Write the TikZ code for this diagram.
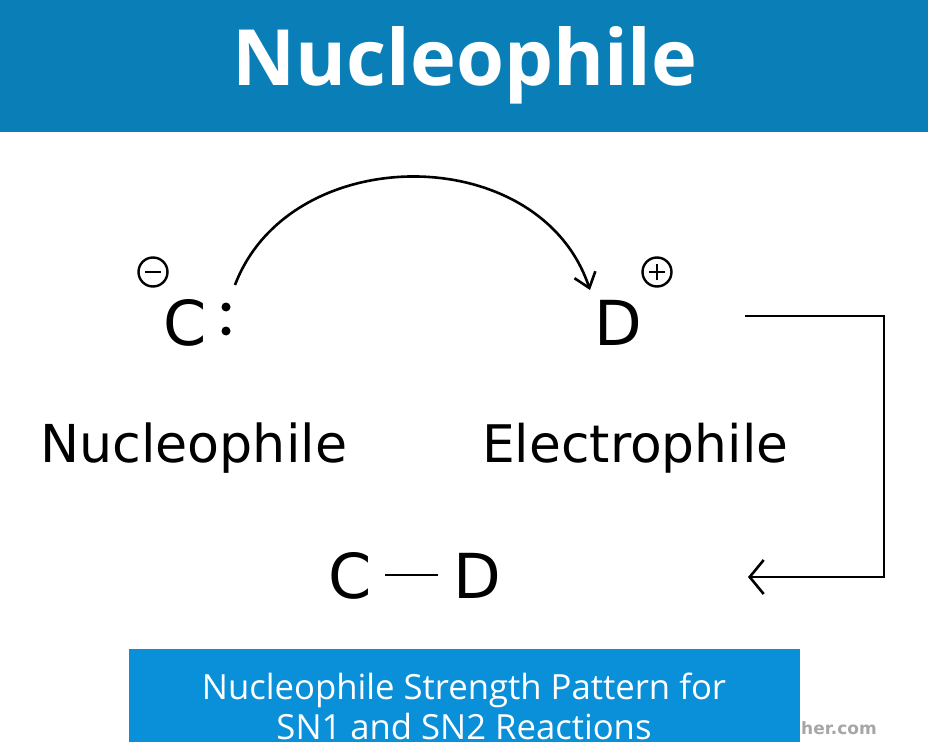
\documentclass[tikz,border=0pt]{standalone}
\usepackage{fontspec}
\setmainfont{DejaVu Sans}
\newfontfamily\capfont{Open Sans}
\usetikzlibrary{arrows.meta}
\definecolor{bannerblue}{HTML}{0A7FB7}
\definecolor{capblue}{HTML}{0A8FD9}
\begin{document}
\begin{tikzpicture}[x=1pt,y=-1pt,
  chem/.style={font=\fontsize{62}{62}\selectfont,inner sep=0pt},
  lbl/.style={font=\fontsize{45}{45}\selectfont,inner sep=0pt},
  chg/.style={draw,line width=2.4pt,circle,minimum size=29pt,inner sep=0pt},
  ln/.style={line width=2.6pt}]
\useasboundingbox (0,0) rectangle (928,751);
\fill[bannerblue] (0,0) rectangle (928,132);
\node[text=white,inner sep=0pt] (title) at (465,65) {\resizebox{465pt}{!}{\capfont\bfseries Nucleophile}};
\node[chem,anchor=base west] (C) at (163,345) {C};
\fill (226,307) circle (4.5pt) coordinate (d1);
\fill (226,331) circle (4.5pt) coordinate (d2);
\node[chg] (minus) at (153,272) {};
\draw[line width=2.4pt] ([xshift=-8pt]minus.center) -- ([xshift=8pt]minus.center);
\node[chem,anchor=base west] (D) at (594,345) {D};
\node[chg] (plus) at (657,272) {};
\draw[line width=2.4pt] ([xshift=-8pt]plus.center) -- ([xshift=8pt]plus.center) ([yshift=-8pt]plus.center) -- ([yshift=8pt]plus.center);
\coordinate (a0) at (235,285);
\coordinate (a1) at (590,290);
\draw[ln,-{Straight Barb[length=14pt,width=22pt,line width=2.6pt]}] (a0) .. controls (290,140) and (540,140) .. (a1);
\node[lbl,anchor=base west] (nuc) at (40,462) {\resizebox{307pt}{!}{Nucleophile}};
\node[lbl,anchor=base west] (ele) at (482,462) {\resizebox{306pt}{!}{Electrophile}};
\node[chem,anchor=base west] (C2) at (328,598) {C};
\node[chem,anchor=base west] (D2) at (453,598) {D};
\draw[ln] (385,575) -- (438,575);
\coordinate (b0) at (745,316);
\coordinate (b1) at (748,577);
\draw[ln,-{Straight Barb[length=14pt,width=34pt,line width=2.6pt]}] (b0) -- (884,316) -- (884,577) -- (b1);
\fill[capblue] (129,649) rectangle (800,742);
\begin{scope}
\clip (129,649) rectangle (800,742);
\node[text=white,inner sep=0pt] (cap1) at (464,690) {\resizebox{524pt}{!}{\capfont Nucleophile Strength Pattern for}};
\node[text=white,inner sep=0pt,anchor=north] (cap2) at (464,713) {\resizebox{375pt}{!}{\capfont SN1 and SN2 Reactions}};
\end{scope}
\node[text=gray!70,anchor=base west,inner sep=0pt,font=\fontsize{17}{17}\selectfont\bfseries] (wm) at (801,734) {her.com};
\end{tikzpicture}
\end{document}
